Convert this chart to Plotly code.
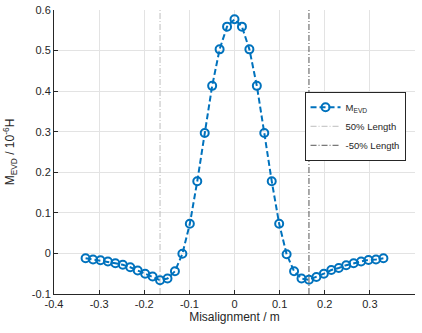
import plotly.graph_objects as go

misalignment = [-0.330, -0.3135, -0.297, -0.2805, -0.264, -0.2475, -0.231, -0.2145, -0.198, -0.1815,
                -0.165, -0.1485, -0.132, -0.1155, -0.099, -0.0825, -0.066, -0.0495, -0.033, -0.0165,
                0.0,
                0.0165, 0.033, 0.0495, 0.066, 0.0825, 0.099, 0.1155, 0.132, 0.1485, 0.165,
                0.1815, 0.198, 0.2145, 0.231, 0.2475, 0.264, 0.2805, 0.297, 0.3135, 0.330]
m_evd = [-0.012, -0.015, -0.017, -0.020, -0.024, -0.028, -0.034, -0.042, -0.050, -0.057,
         -0.066, -0.062, -0.044, -0.001, 0.073, 0.178, 0.297, 0.413, 0.503, 0.559,
         0.577,
         0.559, 0.503, 0.413, 0.297, 0.178, 0.073, -0.002, -0.044, -0.062, -0.065,
         -0.058, -0.050, -0.041, -0.036, -0.029, -0.024, -0.020, -0.016, -0.015, -0.012]

pos_length_x = [-0.165, -0.165]
neg_length_x = [0.165, 0.165]
length_y = [-0.1, 0.6]

x_ticks = [-0.4, -0.3, -0.2, -0.1, 0, 0.1, 0.2, 0.3, 0.4]
x_tick_labels = ["-0.4", "-0.3", "-0.2", "-0.1", "0", "0.1", "0.2", "0.3", "0.4"]
y_ticks = [-0.1, 0, 0.1, 0.2, 0.3, 0.4, 0.5, 0.6]
y_tick_labels = ["-0.1", "0", "0.1", "0.2", "0.3", "0.4", "0.5", "0.6"]

blue = "#0072BD"
txt = "#262626"
font = "Liberation Sans, Arial, sans-serif"

fig = go.Figure()
fig.add_trace(go.Scatter(
    x=misalignment, y=m_evd, mode="lines+markers", name="M<sub>EVD</sub>",
    line=dict(color=blue, width=2, dash="6px,3px"),
    marker=dict(symbol="circle-open", size=8, color=blue, line=dict(width=2, color=blue)),
))
fig.add_trace(go.Scatter(
    x=pos_length_x, y=length_y, mode="lines", name="50% Length",
    line=dict(color="#bdbdbd", width=1, dash="6px,2px,1px,2px"),
))
fig.add_trace(go.Scatter(
    x=neg_length_x, y=length_y, mode="lines", name="-50% Length",
    line=dict(color="#555555", width=1, dash="6px,2px,1px,2px"),
))

axis_common = dict(
    showgrid=True, gridcolor="#e3e3e3", gridwidth=1,
    showline=True, linecolor=txt, linewidth=1,
    ticks="inside", ticklen=4, tickcolor=txt,
    tickfont=dict(family=font, size=11, color=txt),
    zeroline=False, mirror=False, automargin=False,
)

fig.update_layout(
    width=422, height=333,
    margin=dict(l=54, r=7, t=10, b=39),
    paper_bgcolor="white", plot_bgcolor="white",
    font=dict(family=font, size=11, color=txt),
    xaxis=dict(range=[-0.4, 0.4], tickvals=x_ticks, ticktext=x_tick_labels,
               title=dict(text="Misalignment / m", font=dict(family=font, size=12, color=txt), standoff=2),
               **axis_common),
    yaxis=dict(range=[-0.1, 0.6], tickvals=y_ticks, ticktext=y_tick_labels,
               title=dict(text="M<sub>EVD</sub> / 10<sup>-6</sup>H", font=dict(family=font, size=12, color=txt), standoff=14),
               **axis_common),
    legend=dict(x=0.694, y=0.712, xanchor="left", yanchor="top",
                bgcolor="white", bordercolor=txt, borderwidth=1,
                font=dict(family=font, size=9.5, color=txt),
                itemwidth=30, tracegroupgap=0),
    showlegend=True,
)

fig.write_html("out.html", config={"displayModeBar": False},
               post_script="document.body.style.margin='0';document.body.style.overflow='hidden';")
